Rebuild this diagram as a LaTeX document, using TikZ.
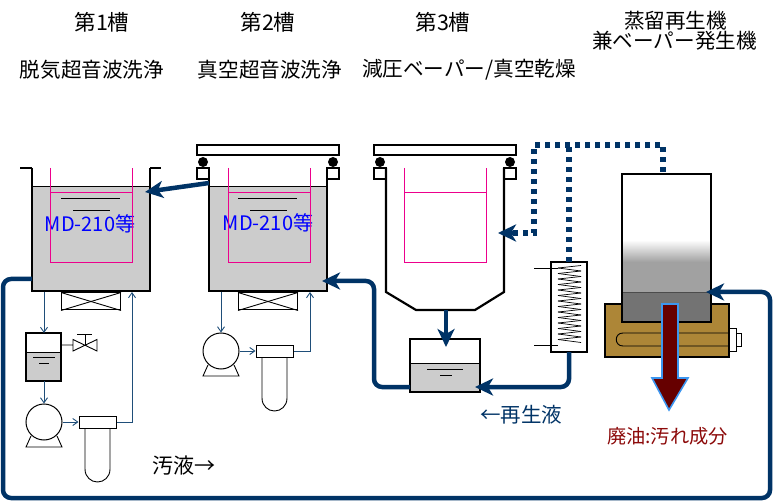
\documentclass[tikz,border=0pt]{standalone}
\usepackage{fontspec}
\setmainfont{Noto Sans CJK JP}
\usetikzlibrary{calc,arrows.meta}
\definecolor{pipeblue}{RGB}{0,51,102}
\definecolor{thinblue}{RGB}{31,78,121}
\definecolor{watergrey}{RGB}{204,204,204}
\definecolor{basebrown}{RGB}{173,134,55}
\definecolor{oilred}{RGB}{102,0,0}
\definecolor{edgeblue}{RGB}{60,150,240}
\definecolor{txtred}{RGB}{140,10,10}
\tikzset{
  wall/.style={line width=2.2pt,black},
  thinline/.style={line width=0.9pt,black},
  basket/.style={line width=0.9pt,magenta},
  pipe/.style={line width=4.5pt,pipeblue,rounded corners=8pt},
  pipetip/.style={pipe,-{Stealth[length=18pt,width=17pt,inset=5pt]}},
  vapour/.style={line width=5.2pt,pipeblue,dash pattern=on 5pt off 5pt},
  thinpipe/.style={line width=0.9pt,thinblue,-{Straight Barb[length=5pt,width=7pt]}},
  title/.style={inner sep=0pt,font=\fontsize{20.6}{24}\selectfont},
  headtxt/.style={inner sep=0pt,font=\fontsize{21.5}{24}\selectfont},
  liquidtxt/.style={inner sep=0pt,text=blue,font=\fontsize{20}{24}\selectfont},
  outbox/.style={draw,line width=1pt,fill=white,inner sep=0pt}
}
\begin{document}
\begin{tikzpicture}[x=1pt,y=-1pt]
  \useasboundingbox (0,0) rectangle (773,502);

  %% Titles
  \node[headtxt] (titleA) at (102,22) {第1槽};
  \node[headtxt] (titleB) at (268,22) {第2槽};
  \node[headtxt] (titleC) at (443,22) {第3槽};
  \node[title] (titleD) at (675.5,20.5) {蒸留再生機};
  \node[title] (titleE) at (674.5,41) {兼ベーパー発生機};
  \node[title] (workA) at (92,70) {脱気超音波洗浄};
  \node[title] (workB) at (270,70) {真空超音波洗浄};
  \node[title] (workC) at (469,70) {減圧ベーパー/真空乾燥};

  %% Tanks 1 and 2
  \foreach \n/\x in {A/32,B/209}
  {
    \fill[watergrey] (\x,186) rectangle (\x+118,291);
    \draw[thinline] (\x,186) -- (\x+118,186);
    \draw[wall] (\x,168) -- (\x,291) -- (\x+118,291) -- (\x+118,168);
    \draw[thinline] (\x+29,198) -- (\x+88,198);
    \draw[thinline] (\x+41,210) -- (\x+78,210);
    \node[outbox,minimum width=59pt,minimum height=17pt] (heat\n) at (\x+59,301.5) {};
    \draw[thinline] (heat\n.north west) -- (heat\n.south east);
    \draw[thinline] (heat\n.north east) -- (heat\n.south west);
  }
  \draw[wall] (20,168) -- (32,168);
  \draw[wall] (150,168) -- (161,168);
  \node[liquidtxt] (liquidA) at (90,224) {MD-210等};
  \node[liquidtxt] (liquidB) at (268,223) {MD-210等};

  %% Baskets
  \foreach \x in {50,228,404}
  {
    \draw[basket] (\x,168) -- (\x,262) -- (\x+82,262) -- (\x+82,168);
    \draw[basket] (\x,192) -- (\x+82,192);
  }

  %% Lids of tanks 2 and 3
  \foreach \n/\x in {B/197,C/374}
  {
    \draw[wall,fill=white] (\x,145) rectangle (\x+142,155);
    \fill (\x+6,162) circle (5);
    \fill (\x+136,162) circle (5);
    \draw[wall] (\x,168) rectangle (\x+12,179);
    \draw[wall] (\x+130,168) rectangle (\x+142,179);
  }

  %% Tank 3
  \draw[wall] (386,168) -- (386,292) -- (416,310) -- (475,310) -- (504,292) -- (504,168);

  %% Drain tank and valve under tank 1
  \fill[watergrey] (26,352) rectangle (61,381);
  \draw[thinline] (26,352) -- (61,352);
  \draw[wall] (26,333) rectangle (61,381);
  \coordinate (subA) at (44,333);
  \coordinate (subB) at (44,381);
  \draw[thinline] (33,357) -- (55,357);
  \draw[thinline] (39,363) -- (49,363);
  \coordinate (valve) at (85,345);
  \draw[thinline] (61,345) -- (73,345) -- (73,351) -- (97,339.5) -- (97,351) -- (73,339.5) -- (73,345);
  \draw[thinline] (valve) -- (85,334);
  \draw[thinline] (77,334) -- (92,334);

  %% Pumps and filters
  \foreach \n/\x/\y in {A/44/422,B/221/351}
  {
    \node[circle,draw,line width=1pt,minimum size=36pt,inner sep=0pt] (pump\n) at (\x,\y) {};
    \draw[thinline] (\x-13,\y+14) -- (\x-18,\y+25) -- (\x+18,\y+25) -- (\x+13,\y+14);
    \draw[thinline] (\x+41,\y+6) -- (\x+41,\y+47) .. controls (\x+41,\y+55) and (\x+47,\y+60) .. (\x+53.5,\y+60)
      .. controls (\x+60,\y+60) and (\x+66,\y+55) .. (\x+66,\y+47) -- (\x+66,\y+6);
    \node[outbox,minimum width=37pt,minimum height=12pt] (filter\n) at (\x+53.5,\y) {};
    \draw[thinpipe] (pump\n) -- (filter\n);
  }
  \coordinate (backA) at (132,292);
  \coordinate (backB) at (310,292);
  \coordinate (outA) at (44,292);
  \coordinate (outB) at (221,292);
  \draw[thinpipe] (outA) -- (subA);
  \draw[thinpipe] (subB) -- (pumpA);
  \draw[thinpipe] (outB) -- (pumpB);
  \draw[thinpipe] (filterA) -- (backA|-filterA) -- (backA);
  \draw[thinpipe] (filterB) -- (backB|-filterB) -- (backB);

  %% Receiver under tank 3
  \fill[watergrey] (410,363) rectangle (480,392);
  \draw[thinline] (410,363) -- (480,363);
  \draw[wall] (410,339) rectangle (480,392);
  \draw[thinline] (427,369) -- (463,369);
  \draw[thinline] (440,375) -- (452,375);

  %% Condenser
  \draw[wall] (551,262) rectangle (587,352);
  \draw[thinline] (534,268) -- (558,268);
  \draw[thinline] (534,345) -- (558,345);
  \foreach \k in {0,...,13}
  {
    \draw[line width=0.7pt] (558,268+5.5*\k) -- (581,265.5+5.5*\k);
    \draw[line width=0.7pt] (558,268+5.5*\k) -- (581,271+5.5*\k);
  }

  %% Distillation still
  \draw[wall,fill=basebrown] (605,304) rectangle (729,357);
  \draw[thinline] (729,333) -- (623,333) .. controls (614,333) and (614,346) .. (623,346) -- (729,346);
  \draw[thinline,fill=white] (729,328) rectangle (736,351);
  \draw[thinline,fill=white] (736,333) rectangle (741,346);
  \fill[white] (622,174) rectangle (711,240);
  \shade[top color=white,bottom color=black!37] (622,240) rectangle (711,262);
  \fill[black!37] (622,262) rectangle (711,292);
  \fill[black!55] (622,292) rectangle (711,322);
  \draw[line width=0.8pt,black!70] (622,292) -- (711,292);
  \draw[wall] (622,174) rectangle (711,322);

  %% Waste oil arrow
  \draw[line width=1.6pt,edgeblue,fill=oilred] (662,304) -- (678,304) -- (678,378) -- (688,378)
    -- (669,410) -- (652,378) -- (662,378) -- cycle;
  \node[inner sep=0pt,text=txtred,font=\fontsize{19.2}{23}\selectfont] (oilTxt) at (667.5,436) {廃油:汚れ成分};

  %% Pipe ends
  \coordinate (dirtyOut) at (32,279);
  \coordinate (stillIn) at (706,292);
  \coordinate (bToA) at (209,183);
  \coordinate (aIn) at (145,192);
  \coordinate (drainC) at (446,310);
  \coordinate (recvTop) at (446,347);
  \coordinate (recvL) at (410,387);
  \coordinate (recvR) at (475,387);
  \coordinate (bIn) at (322,281);
  \coordinate (condOut) at (569,352);
  \coordinate (condTop) at (569,262);
  \coordinate (cIn) at (498,233);
  \coordinate (stillTop) at (663,172);

  %% Thick pipes
  \draw[pipetip] (dirtyOut) -- (3,279) -- (3,498) -- (770,498) -- (770,292) -- (stillIn);
  \draw[pipetip] (bToA) -- (aIn);
  \draw[pipetip] (drainC) -- (recvTop);
  \draw[pipetip] (recvL) -- (374,387) -- (374,281) -- (bIn);
  \draw[pipetip] (condOut) -- (569,387) -- (recvR);

  %% Vapour lines
  \draw[vapour] (stillTop) -- (663,145) -- (534,145) -- (534,233) -- (510,233);
  \draw[vapour] (condTop) -- (569,145);
  \draw[pipetip,line cap=butt] (514,233) -- (cIn);

  %% Liquid labels
  \node[inner sep=0pt,anchor=west,text=pipeblue,font=\fontsize{20.5}{24}\selectfont] (backTxt) at (480,415) {←再生液};
  \node[inner sep=0pt,anchor=west,font=\fontsize{21}{24}\selectfont] (dirtyTxt) at (152,466) {汚液→};
\end{tikzpicture}
\end{document}
